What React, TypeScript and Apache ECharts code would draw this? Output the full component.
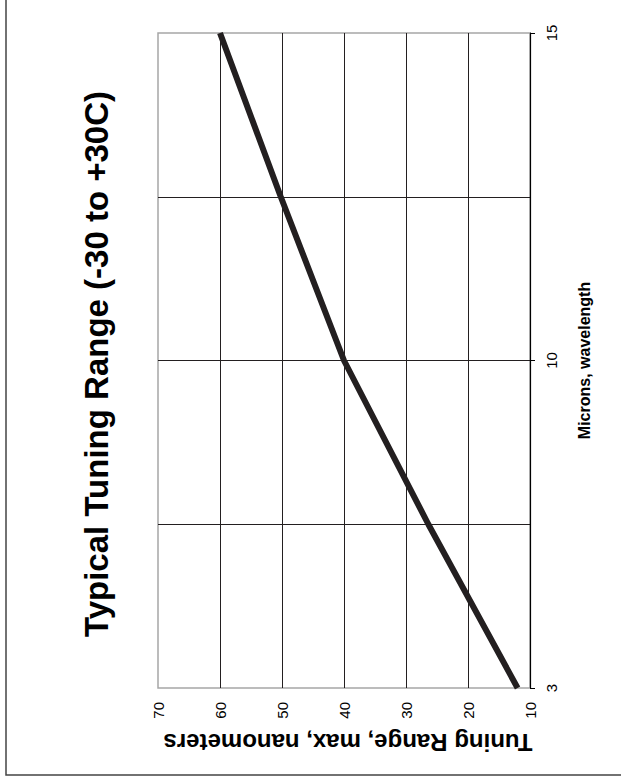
import React, { useEffect, useRef } from "react";
import * as echarts from "echarts";

const titleText = "Typical Tuning Range (-30 to +30C)";
const wavelengthLabels = ["3", "", "10", "", "15"];
const tuningRange = [12, 26.4, 40, 50.2, 60];
const tuningTicks = [10, 20, 30, 40, 50, 60, 70];
const xName = "Microns, wavelength";
const yName = "Tuning Range, max, nanometers";

const FONT = "Liberation Sans, Arial, Helvetica, sans-serif";

export default function App() {
  const ref = useRef<HTMLDivElement>(null);
  useEffect(() => {
    document.body.style.margin = "0";
    const chart = echarts.init(ref.current!, null, { renderer: "svg" });
    const lastIdx = wavelengthLabels.length - 1;
    chart.setOption({
      animation: false,
      backgroundColor: "#ffffff",
      textStyle: { fontFamily: FONT },
      grid: {
        left: 158,
        right: 91,
        top: 33,
        bottom: 90,
        show: true,
        borderColor: "#a6a6a6",
        borderWidth: 1.5,
        backgroundColor: "transparent",
      },
      xAxis: {
        type: "value",
        inverse: true,
        min: tuningTicks[0],
        max: tuningTicks[tuningTicks.length - 1],
        interval: 10,
        position: "bottom",
        axisLine: { show: false },
        axisTick: { show: false },
        axisLabel: {
          rotate: 90,
          margin: 14,
          fontSize: 15,
          color: "#000",
          fontFamily: FONT,
        },
        splitLine: {
          show: true,
          showMaxLine: false,
          lineStyle: { color: "#231f20", width: 1 },
        },
        name: yName,
        nameLocation: "middle",
        nameRotate: 180,
        nameGap: 42,
        nameTextStyle: {
          fontSize: 24,
          fontWeight: "bold",
          color: "#000",
          fontFamily: FONT,
          padding: [0, 8, 0, 0],
        },
      },
      yAxis: {
        type: "category",
        data: wavelengthLabels,
        boundaryGap: false,
        position: "right",
        axisLine: { show: true, lineStyle: { color: "#000", width: 1.2 } },
        axisTick: {
          show: true,
          length: 5,
          interval: (i: number) => wavelengthLabels[i] !== "",
          lineStyle: { color: "#000" },
        },
        axisLabel: {
          rotate: 90,
          margin: 14,
          fontSize: 15,
          color: "#000",
          fontFamily: FONT,
          interval: (i: number) => wavelengthLabels[i] !== "",
        },
        splitLine: {
          show: true,
          interval: (i: number) => i !== 0 && i !== lastIdx,
          lineStyle: { color: "#231f20", width: 1 },
        },
        name: xName,
        nameLocation: "middle",
        nameRotate: 90,
        nameGap: 46,
        nameTextStyle: {
          fontSize: 16,
          fontWeight: "bold",
          color: "#000",
          fontFamily: FONT,
        },
      },
      series: [
        {
          type: "line",
          data: tuningRange.map((v, i) => [v, i]),
          symbol: "none",
          lineStyle: { color: "#231f20", width: 6 },
          z: 5,
        },
      ],
      graphic: [
        {
          type: "text",
          x: 96,
          y: 364,
          rotation: Math.PI / 2,
          style: {
            text: titleText,
            fontSize: 33,
            fontWeight: "bold",
            fontFamily: FONT,
            fill: "#000",
            textAlign: "center",
            textVerticalAlign: "middle",
          },
        },
        {
          type: "polyline",
          shape: { points: [[6, 0], [6, 775], [621, 775]] },
          style: { stroke: "#444", lineWidth: 1.5, fill: "none" },
        },
      ],
    });
    return () => chart.dispose();
  }, []);
  return (
    <div
      ref={ref}
      style={{ position: "absolute", left: 0, top: 0, width: 621, height: 778 }}
    />
  );
}
